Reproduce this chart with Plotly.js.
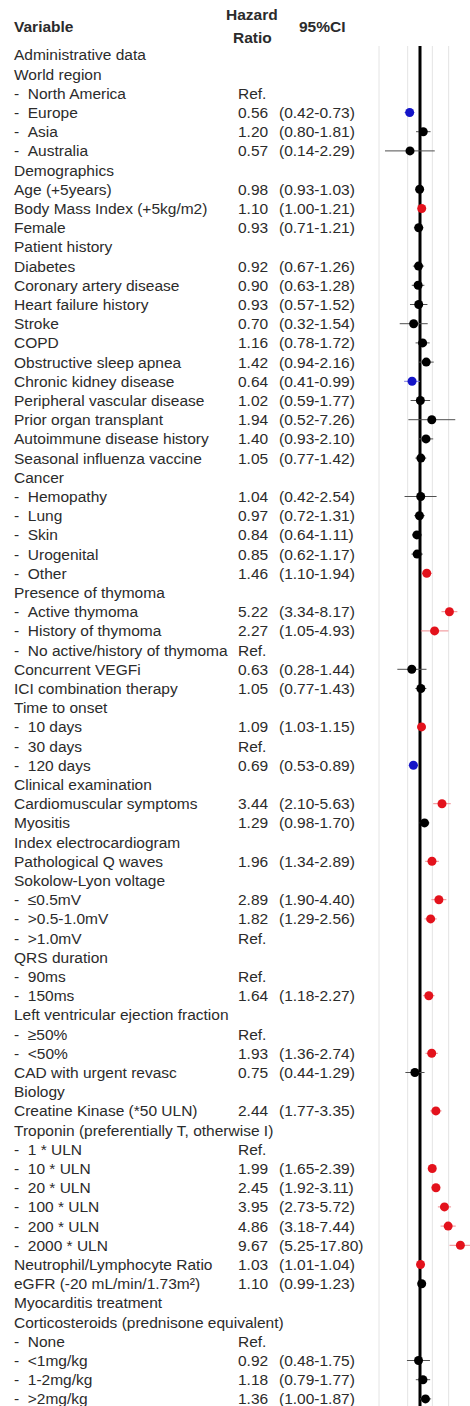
<!DOCTYPE html>
<html><head><meta charset="utf-8">
<script src="https://cdn.plot.ly/plotly-3.0.1.min.js"></script>
<style>html,body{margin:0;padding:0;background:#fff}#chart{width:470px;height:1406px}</style>
</head><body><div id="chart"></div>
<script>
const labels = [
 "Administrative data","World region","-\u00a0\u00a0North America","-\u00a0\u00a0Europe","-\u00a0\u00a0Asia","-\u00a0\u00a0Australia",
 "Demographics","Age (+5years)","Body Mass Index (+5kg/m2)","Female",
 "Patient history","Diabetes","Coronary artery disease","Heart failure history","Stroke","COPD","Obstructive sleep apnea",
 "Chronic kidney disease","Peripheral vascular disease","Prior organ transplant","Autoimmune disease history","Seasonal influenza vaccine",
 "Cancer","-\u00a0\u00a0Hemopathy","-\u00a0\u00a0Lung","-\u00a0\u00a0Skin","-\u00a0\u00a0Urogenital","-\u00a0\u00a0Other",
 "Presence of thymoma","-\u00a0\u00a0Active thymoma","-\u00a0\u00a0History of thymoma","-\u00a0\u00a0No active/history of thymoma",
 "Concurrent VEGFi","ICI combination therapy",
 "Time to onset","-\u00a0\u00a010 days","-\u00a0\u00a030 days","-\u00a0\u00a0120 days",
 "Clinical examination","Cardiomuscular symptoms","Myositis",
 "Index electrocardiogram","Pathological Q waves","Sokolow-Lyon voltage","-\u00a0\u00a0≤0.5mV","-\u00a0\u00a0&gt;0.5-1.0mV","-\u00a0\u00a0&gt;1.0mV",
 "QRS duration","-\u00a0\u00a090ms","-\u00a0\u00a0150ms",
 "Left ventricular ejection fraction","-\u00a0\u00a0≥50%","-\u00a0\u00a0&lt;50%","CAD with urgent revasc",
 "Biology","Creatine Kinase (*50 ULN)","Troponin (preferentially T, otherwise I)",
 "-\u00a0\u00a01 * ULN","-\u00a0\u00a010 * ULN","-\u00a0\u00a020 * ULN","-\u00a0\u00a0100 * ULN","-\u00a0\u00a0200 * ULN","-\u00a0\u00a02000 * ULN",
 "Neutrophil/Lymphocyte Ratio","eGFR (-20 mL/min/1.73m²)",
 "Myocarditis treatment","Corticosteroids (prednisone equivalent)","-\u00a0\u00a0None","-\u00a0\u00a0&lt;1mg/kg","-\u00a0\u00a01-2mg/kg","-\u00a0\u00a0&gt;2mg/kg"
];
const hr = [
 null,null,null,0.56,1.20,0.57,
 null,0.98,1.10,0.93,
 null,0.92,0.90,0.93,0.70,1.16,1.42,0.64,1.02,1.94,1.40,1.05,
 null,1.04,0.97,0.84,0.85,1.46,
 null,5.22,2.27,null,
 0.63,1.05,
 null,1.09,null,0.69,
 null,3.44,1.29,
 null,1.96,null,2.89,1.82,null,
 null,null,1.64,
 null,null,1.93,0.75,
 null,2.44,null,null,1.99,2.45,3.95,4.86,9.67,
 1.03,1.10,
 null,null,null,0.92,1.18,1.36
];
const lo = [
 null,null,null,0.42,0.80,0.14,
 null,0.93,1.00,0.71,
 null,0.67,0.63,0.57,0.32,0.78,0.94,0.41,0.59,0.52,0.93,0.77,
 null,0.42,0.72,0.64,0.62,1.10,
 null,3.34,1.05,null,
 0.28,0.77,
 null,1.03,null,0.53,
 null,2.10,0.98,
 null,1.34,null,1.90,1.29,null,
 null,null,1.18,
 null,null,1.36,0.44,
 null,1.77,null,null,1.65,1.92,2.73,3.18,5.25,
 1.01,0.99,
 null,null,null,0.48,0.79,1.00
];
const hi = [
 null,null,null,0.73,1.81,2.29,
 null,1.03,1.21,1.21,
 null,1.26,1.28,1.52,1.54,1.72,2.16,0.99,1.77,7.26,2.10,1.42,
 null,2.54,1.31,1.11,1.17,1.94,
 null,8.17,4.93,null,
 1.44,1.43,
 null,1.15,null,0.89,
 null,5.63,1.70,
 null,2.89,null,4.40,2.56,null,
 null,null,2.27,
 null,null,2.74,1.29,
 null,3.35,null,null,2.39,3.11,5.72,7.44,17.80,
 1.04,1.23,
 null,null,null,1.75,1.77,1.87
];
// reference category rows
const refRows = [2,31,36,46,48,51,57,67];
// significance direction as shown in the figure
const sigUp = [8,27,29,30,35,39,42,44,45,49,52,55,58,59,60,61,62,63];
const sigDown = [3,17,37];
const gridValues = [0.1, 0.5, 2, 5];
const headVariable = "Variable", headHR1 = "Hazard", headHR2 = "Ratio", headCI = "95%CI";

const W = 470, H = 1406;
const rowTop = 54.9, rowStep = 19.2;
const yTop = -rowTop/rowStep, yBot = (H-rowTop)/rowStep;
const FONT = "Liberation Sans, Arial, sans-serif";
const FS = 15.5, TXT = "#2b2b2b";

const groups = {black:{idx:[],col:"#000000",ci:"#505050"}, red:{idx:[],col:"#e3121c",ci:"#f08a8f"}, blue:{idx:[],col:"#1414c8",ci:"#7a7ae0"}};
hr.forEach((v,i)=>{ if(v==null) return;
  if(sigUp.includes(i)) groups.red.idx.push(i);
  else if(sigDown.includes(i)) groups.blue.idx.push(i);
  else groups.black.idx.push(i);
});
const traces = Object.values(groups).map(g=>({
  type:"scatter", mode:"markers",
  x:g.idx.map(i=>hr[i]), y:g.idx.map(i=>i),
  marker:{color:g.col, size:9, line:{width:0}},
  error_x:{type:"data", symmetric:false,
    array:g.idx.map(i=>hi[i]-hr[i]), arrayminus:g.idx.map(i=>hr[i]-lo[i]),
    color:g.ci, thickness:1, width:0},
  hoverinfo:"skip", cliponaxis:true, showlegend:false
}));

const ann = [];
const tf = {family:FONT, size:FS, color:TXT};
labels.forEach((t,i)=>{
  ann.push({xref:"paper", yref:"y", x:12/W, y:i, xanchor:"left", yanchor:"middle", text:t, showarrow:false, font:tf});
  let h = refRows.includes(i) ? "Ref." : (hr[i]==null ? "" : hr[i].toFixed(2));
  if(h) ann.push({xref:"paper", yref:"y", x:236/W, y:i, xanchor:"left", yanchor:"middle", text:h, showarrow:false, font:tf});
  if(hr[i]!=null) ann.push({xref:"paper", yref:"y", x:277/W, y:i, xanchor:"left", yanchor:"middle",
     text:"("+lo[i].toFixed(2)+"-"+hi[i].toFixed(2)+")", showarrow:false, font:tf});
});
const hf = {family:FONT, size:FS, color:TXT, weight:"bold"};
ann.push({xref:"paper", yref:"paper", x:12/W, y:1-27/H, xanchor:"left", yanchor:"middle", text:"<b>"+headVariable+"</b>", showarrow:false, font:hf});
ann.push({xref:"paper", yref:"paper", x:252/W, y:1-15/H, xanchor:"center", yanchor:"middle", text:"<b>"+headHR1+"</b>", showarrow:false, font:hf});
ann.push({xref:"paper", yref:"paper", x:252/W, y:1-38/H, xanchor:"center", yanchor:"middle", text:"<b>"+headHR2+"</b>", showarrow:false, font:hf});
ann.push({xref:"paper", yref:"paper", x:322/W, y:1-27/H, xanchor:"center", yanchor:"middle", text:"<b>"+headCI+"</b>", showarrow:false, font:hf});

const lineTop = 1-46/H;
const shapes = gridValues.map(v=>({type:"line", xref:"x", yref:"paper", x0:v, x1:v, y0:0, y1:lineTop,
  line:{color:"#e4e4e4", width:1}, layer:"below"}));
shapes.push({type:"line", xref:"x", yref:"paper", x0:1, x1:1, y0:0, y1:lineTop, line:{color:"#000", width:3}, layer:"below"});

const layout = {
  width:W, height:H, margin:{l:0,r:0,t:0,b:0},
  paper_bgcolor:"#fff", plot_bgcolor:"rgba(0,0,0,0)",
  xaxis:{type:"log", range:[-1.098,1.22], domain:[375/W,1], showgrid:false, zeroline:false, showline:false,
    showticklabels:false, ticks:"", fixedrange:true},
  yaxis:{range:[yBot,yTop], showgrid:false, zeroline:false, showline:false, showticklabels:false, ticks:"", fixedrange:true},
  annotations:ann, shapes:shapes, showlegend:false, hovermode:false
};
Plotly.newPlot("chart", traces, layout, {displayModeBar:false, staticPlot:true});
</script>
</body></html>
